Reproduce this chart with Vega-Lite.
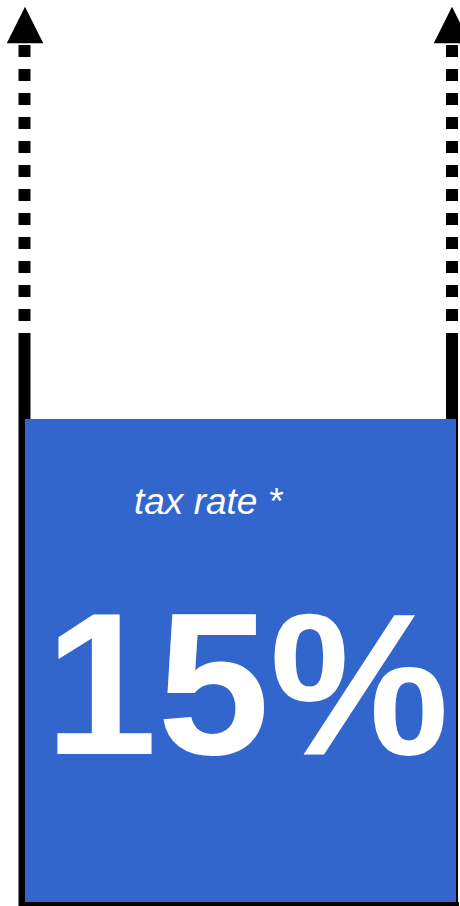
{
  "$schema": "https://vega.github.io/schema/vega-lite/v6.json",
  "width": 460,
  "height": 906,
  "autosize": "none",
  "padding": 0,
  "config": {"view": {"stroke": null}},
  "layer": [
    {
      "data": {"values": [{"x": 24.5, "y": 333, "y2": 906}, {"x": 452, "y": 333, "y2": 906}]},
      "mark": {"type": "rule", "strokeWidth": 12, "color": "#000000", "strokeCap": "butt"},
      "encoding": {
        "x": {"field": "x", "type": "quantitative", "scale": {"domain": [0, 460], "nice": false, "zero": false}, "axis": null},
        "y": {"field": "y", "type": "quantitative", "scale": {"domain": [0, 906], "nice": false, "zero": false, "reverse": true}, "axis": null},
        "y2": {"field": "y2"}
      }
    },
    {
      "data": {"values": [{"x": 24.5, "y": 45, "y2": 333}, {"x": 452, "y": 45, "y2": 333}]},
      "mark": {"type": "rule", "strokeWidth": 12, "color": "#000000", "strokeDash": [12, 12], "strokeCap": "butt"},
      "encoding": {
        "x": {"field": "x", "type": "quantitative", "axis": null},
        "y": {"field": "y", "type": "quantitative", "axis": null},
        "y2": {"field": "y2"}
      }
    },
    {
      "data": {"values": [{"x": 25, "x2": 456, "y": 419, "y2": 902}]},
      "mark": {"type": "rect", "color": "#3366cc"},
      "encoding": {
        "x": {"field": "x", "type": "quantitative", "axis": null},
        "x2": {"field": "x2"},
        "y": {"field": "y", "type": "quantitative", "axis": null},
        "y2": {"field": "y2"}
      }
    },
    {
      "data": {"values": [{"x": 19, "x2": 459, "y": 904}]},
      "mark": {"type": "rule", "strokeWidth": 4, "color": "#000000", "strokeCap": "butt"},
      "encoding": {
        "x": {"field": "x", "type": "quantitative", "axis": null},
        "x2": {"field": "x2"},
        "y": {"field": "y", "type": "quantitative", "axis": null}
      }
    },
    {
      "data": {"values": [{"x": 25, "y": 25}, {"x": 452, "y": 25}]},
      "mark": {"type": "point", "shape": "M0,-1L1,1L-1,1Z", "filled": true, "size": 1330, "color": "#000000", "opacity": 1, "strokeWidth": 0},
      "encoding": {
        "x": {"field": "x", "type": "quantitative", "axis": null},
        "y": {"field": "y", "type": "quantitative", "axis": null}
      }
    },
    {
      "data": {"values": [{"x": 134, "y": 514, "label": "tax rate *"}]},
      "mark": {"type": "text", "font": "Liberation Sans", "fontStyle": "italic", "fontSize": 37, "align": "left", "baseline": "alphabetic", "color": "#ffffff"},
      "encoding": {
        "x": {"field": "x", "type": "quantitative", "axis": null},
        "y": {"field": "y", "type": "quantitative", "axis": null},
        "text": {"field": "label"}
      }
    },
    {
      "data": {"values": [{"x": 247, "y": 754, "label": "15%"}]},
      "mark": {"type": "text", "font": "Liberation Sans", "fontWeight": "bold", "fontSize": 202, "align": "center", "baseline": "alphabetic", "color": "#ffffff"},
      "encoding": {
        "x": {"field": "x", "type": "quantitative", "axis": null},
        "y": {"field": "y", "type": "quantitative", "axis": null},
        "text": {"field": "label"}
      }
    }
  ]
}
